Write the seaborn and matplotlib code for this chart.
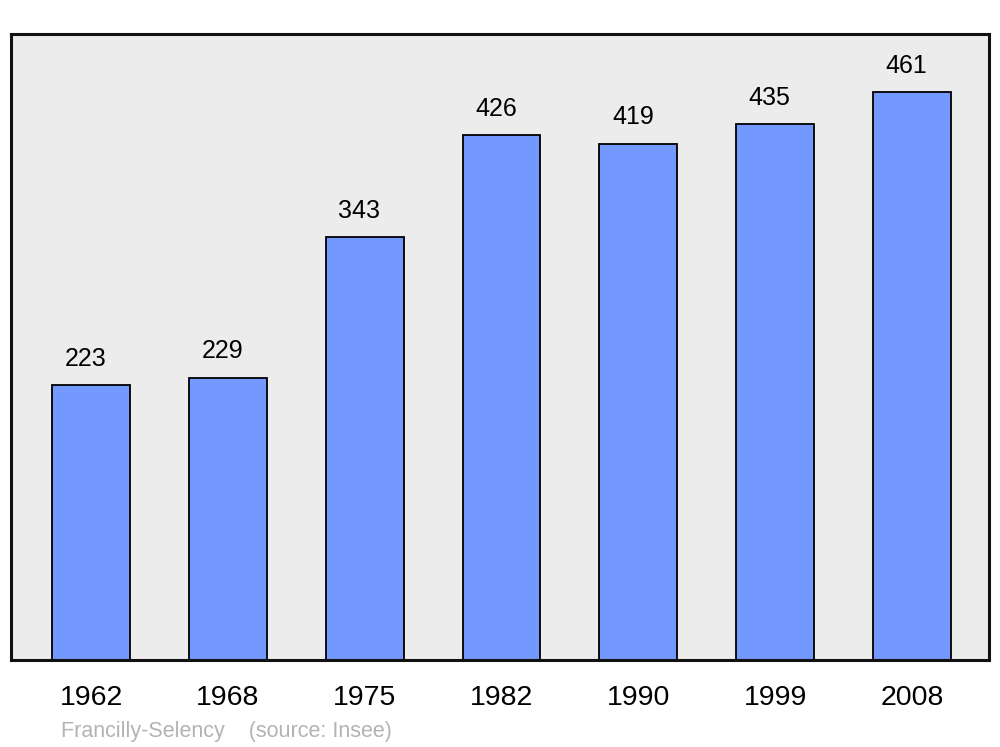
import matplotlib
matplotlib.use("Agg")
import matplotlib.pyplot as plt
import seaborn as sns
import pandas as pd

# data
years = ["1962", "1968", "1975", "1982", "1990", "1999", "2008"]
population = [223, 229, 343, 426, 419, 435, 461]
source_note = "Francilly-Selency    (source: Insee)"

df = pd.DataFrame({"year": years, "population": population})

sns.set_style("white")
plt.rcParams["font.family"] = ["Liberation Sans", "DejaVu Sans"]

fig = plt.figure(figsize=(10, 7.47), dpi=100)
ax = fig.add_axes([0.011, 0.1165, 0.978, 0.838])
ax.set_facecolor("#ececec")

sns.barplot(data=df, x="year", y="population", color="#7399ff", saturation=1,
            edgecolor="black", linewidth=1.3, width=0.57, ax=ax)

# value labels sit a little left of the bar centre in the original
for i, v in enumerate(population):
    ax.annotate(str(v), xy=(i, v), xytext=(-4, 19), textcoords="offset points",
                ha="center", va="center", fontsize=18, color="black")

ax.set_xlim(-0.585, 6.563)
ax.set_ylim(0, 508)
ax.set_yticks([])
ax.set_xlabel("")
ax.set_ylabel("")
ax.tick_params(axis="x", length=0, pad=18, labelsize=20.5, labelcolor="black")
for s in ax.spines.values():
    s.set_linewidth(2.2)
    s.set_color("#111111")

fig.text(0.061, 1 - 731 / 747, source_note, fontsize=15.5, color="#b3b3b3",
         ha="left", va="center")

fig.savefig("out.png", dpi=100, facecolor="white")
